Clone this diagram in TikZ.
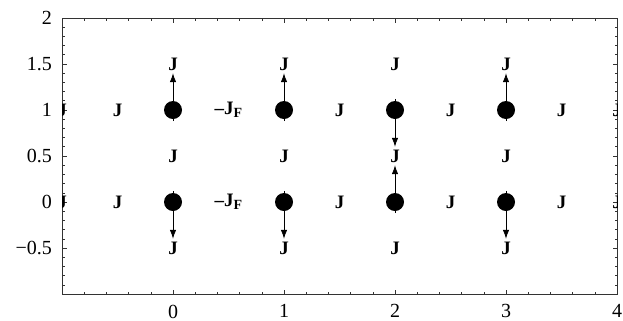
\documentclass[tikz,border=0pt]{standalone}
\usepackage{fontspec}
\setmainfont{Liberation Serif}
\usetikzlibrary{arrows.meta}
\begin{document}
\begin{tikzpicture}[x=111pt,y=92pt,
  coupling/.style={font=\fontsize{19}{19}\selectfont\bfseries, inner sep=0pt},
  ticklab/.style={font=\fontsize{20}{20}\selectfont, inner sep=0pt},
  site/.style={circle, fill=black, minimum size=18pt, inner sep=0pt},
  spin/.style={-{Latex[length=9pt,width=6.5pt]}, line width=0.8pt},
  frameline/.style={line width=0.8pt, draw=black!80},
  tickline/.style={line width=0.6pt, draw=black!80}]
\useasboundingbox (-1.5586,-1.2826) rectangle (4.054,2.1957);
% frame
\draw[frameline] (-1,-1) rectangle (4,2);
% x ticks (bottom and top)
\foreach \i in {1,...,24}{
  \pgfmathsetmacro\xx{-1+0.2*\i}
  \pgfmathsetmacro\tl{ifthenelse(mod(\i,5)==0,4.5,2.5)}
  \draw[tickline] (\xx,-1) -- ++(0,\tl pt);
  \draw[tickline] (\xx,2) -- ++(0,-\tl pt);
}
% y ticks (left and right)
\foreach \i in {1,...,29}{
  \pgfmathsetmacro\yy{-1+0.1*\i}
  \pgfmathsetmacro\tl{ifthenelse(mod(\i,5)==0,4.5,2.5)}
  \draw[tickline] (-1,\yy) -- ++(\tl pt,0);
  \draw[tickline] (4,\yy) -- ++(-\tl pt,0);
}
% tick labels
\foreach \v/\t in {2/2,1.5/1.5,1/1,0.5/0.5,0/0,-0.5/−0.5}
  \node[ticklab, anchor=east] (yl\v) at ([xshift=-10pt]-1,\v) {\t};
\foreach \v in {0,1,2,3,4}
  \node[ticklab, anchor=north] (xl\v) at ([yshift=-10.5pt]\v,-1) {\v};
% couplings clipped at frame edges
\begin{scope}
  \clip (-1,-1) rectangle (4,2);
  \foreach \r in {0,1}{
    \node[coupling] (jl\r) at (-1,\r) {J};
    \node[coupling] (jr\r) at (4,\r) {J};
  }
\end{scope}
% horizontal couplings
\foreach \r in {0,1}{
  \foreach \c in {-0.5,1.5,2.5,3.5}
    \node[coupling] (jh\c\r) at (\c,\r) {J};
  \node[coupling] (jf\r) at (0.5,\r) {–J\raisebox{-0.35ex}{\fontsize{14}{14}\selectfont F}};
}
% vertical couplings
\foreach \c in {0,1,2,3}
  \foreach \v/\n in {1.5/a,0.5/b,-0.5/c}
    \node[coupling] (jv\c\n) at (\c,\v) {J};
% sites
\foreach \c in {0,1,2,3}
  \foreach \r in {0,1}
    \node[site] (s\c\r) at (\c,\r) {};
% spin arrows
\foreach \c/\r/\d in {0/1/1,1/1/1,2/1/-1,3/1/1,0/0/-1,1/0/-1,2/0/1,3/0/-1}{
  \coordinate (st\c\r) at (\c,\r-0.12*\d);
  \coordinate (tp\c\r) at (\c,\r+0.4*\d);
  \draw[spin] (st\c\r) -- (tp\c\r);
}
\end{tikzpicture}
\end{document}
